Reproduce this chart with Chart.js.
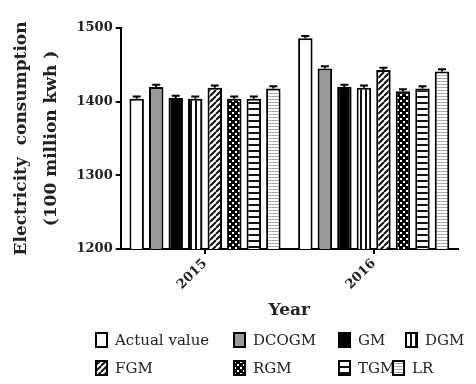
<!DOCTYPE html>
<html>
<head>
<meta charset="utf-8">
<script src="https://cdn.jsdelivr.net/npm/chart.js@4/dist/chart.umd.min.js"></script>
<style>
  html, body { margin: 0; padding: 0; background: #fff; }
  #wrap { position: relative; width: 476px; height: 384px; }
  #legend { position: absolute; left: 0; top: 0; width: 476px; height: 384px; pointer-events: none; font-family: "DejaVu Serif", serif; font-size: 15px; color: #222; }
  .item { position: absolute; display: flex; align-items: center; white-space: nowrap; }
  .item canvas { width: 13px; height: 16px; margin-right: 7px; }
</style>
</head>
<body>
<div id="wrap">
  <canvas id="c" width="476" height="384"></canvas>
  <div id="legend"></div>
</div>
<script>
// ---- data ----
const categories = ['2015', '2016'];
const seriesNames = ['Actual value', 'DCOGM', 'GM', 'DGM', 'FGM', 'RGM', 'TGM', 'LR'];
const actualValue = [1404, 1486];
const dcogm = [1420, 1445];
const gm = [1405, 1420];
const dgm = [1404, 1419];
const fgm = [1419, 1443];
const rgm = [1404, 1414];
const tgm = [1404, 1418];
const lr = [1418, 1441];
const errors = [3, 3];
const yTicks = [1200, 1300, 1400, 1500];

const seriesValues = [actualValue, dcogm, gm, dgm, fgm, rgm, tgm, lr];
const fillTypes = ['white', 'gray', 'black', 'vstripe', 'diag', 'dots', 'hstripe', 'lrstripe'];

function makeTile(type) {
  const t = document.createElement('canvas');
  let w = 6, h = 6;
  if (type === 'vstripe') { w = 5; h = 5; }
  if (type === 'lrstripe') { w = 3; h = 3; }
  t.width = w; t.height = h;
  const g = t.getContext('2d');
  g.fillStyle = '#fff'; g.fillRect(0, 0, w, h);
  if (type === 'gray') { g.fillStyle = '#9a9a9a'; g.fillRect(0, 0, w, h); }
  if (type === 'black') { g.fillStyle = '#000'; g.fillRect(0, 0, w, h); }
  if (type === 'vstripe') { g.fillStyle = '#111'; g.fillRect(0, 0, 2, h); }
  if (type === 'hstripe') { g.fillStyle = '#111'; g.fillRect(0, 0, w, 2); }
  if (type === 'lrstripe') { g.fillStyle = '#aaa'; g.fillRect(0, 0, w, 1); }
  if (type === 'diag') {
    g.strokeStyle = '#111'; g.lineWidth = 2;
    g.beginPath();
    for (let k = -1; k <= 1; k++) {
      g.moveTo(k * w, h); g.lineTo(k * w + w, 0);
    }
    g.stroke();
  }
  if (type === 'dots') {
    g.fillStyle = '#000'; g.fillRect(0, 0, w, h);
    g.fillStyle = '#fff';
    g.fillRect(1, 1, 2, 2);
    g.fillRect(4, 4, 2, 2);
  }
  return t;
}
const ctx = document.getElementById('c').getContext('2d');
const fills = fillTypes.map(t => ctx.createPattern(makeTile(t), 'repeat'));

const errorBars = {
  id: 'errorBars',
  afterDatasetsDraw(chart) {
    const c = chart.ctx;
    const ys = chart.scales.y;
    c.save();
    c.strokeStyle = '#000';
    c.lineWidth = 2;
    chart.data.datasets.forEach((ds, i) => {
      const meta = chart.getDatasetMeta(i);
      meta.data.forEach((el, j) => {
        const v = ds.data[j];
        const top = ys.getPixelForValue(v + errors[j]);
        c.beginPath();
        c.moveTo(el.x, el.y);
        c.lineTo(el.x, top);
        c.moveTo(el.x - 4, top);
        c.lineTo(el.x + 4, top);
        c.stroke();
      });
    });
    c.restore();
  }
};

new Chart(ctx, {
  type: 'bar',
  data: {
    labels: categories,
    datasets: seriesNames.map((n, i) => ({
      label: n,
      data: seriesValues[i],
      backgroundColor: fills[i],
      borderColor: '#000',
      borderWidth: 2,
      categoryPercentage: 0.926,
      barPercentage: 0.74
    }))
  },
  options: {
    responsive: false,
    animation: false,
    layout: { padding: { left: 7, right: 18, top: 28, bottom: 63 } },
    plugins: { legend: { display: false }, tooltip: { enabled: false } },
    scales: {
      x: {
        grid: { display: true, drawOnChartArea: false, drawTicks: true, tickLength: 5, color: '#000', lineWidth: 2, offset: false },
        border: { display: true, color: '#000', width: 2 },
        ticks: { color: '#222', font: { family: 'DejaVu Serif', weight: 'bold', size: 13 }, maxRotation: 45, minRotation: 45, padding: 2 },
        title: { display: true, text: 'Year', color: '#222', font: { family: 'DejaVu Serif', weight: 'bold', size: 17 }, padding: { top: 6, bottom: 0 } }
      },
      y: {
        min: 1200, max: 1500,
        afterBuildTicks(scale) { scale.ticks = yTicks.map(v => ({ value: v })); },
        grid: { display: true, drawOnChartArea: false, drawTicks: true, tickLength: 5, color: '#000', lineWidth: 2 },
        border: { display: true, color: '#000', width: 2 },
        ticks: { color: '#222', font: { family: 'DejaVu Serif', weight: 'bold', size: 13 }, padding: 3, callback: v => String(v) },
        title: { display: true, text: ['Electricity  consumption', '(100 million kwh )'], color: '#222', font: { family: 'DejaVu Serif', weight: 'bold', size: 17, lineHeight: 1.75 }, padding: { top: 0, bottom: 7 } }
      }
    }
  },
  plugins: [errorBars]
});

// legend (HTML, swatches reuse the same fills)
const legendPos = [
  [95, 340], [233, 340], [338, 340], [405, 340],
  [95, 368], [233, 368], [338, 368], [392, 368]
];
const leg = document.getElementById('legend');
seriesNames.forEach((n, i) => {
  const d = document.createElement('div');
  d.className = 'item';
  d.style.left = legendPos[i][0] + 'px';
  d.style.top = (legendPos[i][1] - 10) + 'px';
  d.style.height = '20px';
  const sw = document.createElement('canvas');
  sw.width = 13; sw.height = 16;
  const g = sw.getContext('2d');
  g.fillStyle = g.createPattern(makeTile(fillTypes[i]), 'repeat');
  g.fillRect(0, 0, 13, 16);
  g.strokeStyle = '#000'; g.lineWidth = 2;
  g.strokeRect(1, 1, 11, 14);
  d.appendChild(sw);
  const s = document.createElement('span');
  s.textContent = n;
  d.appendChild(s);
  leg.appendChild(d);
});
</script>
</body>
</html>
